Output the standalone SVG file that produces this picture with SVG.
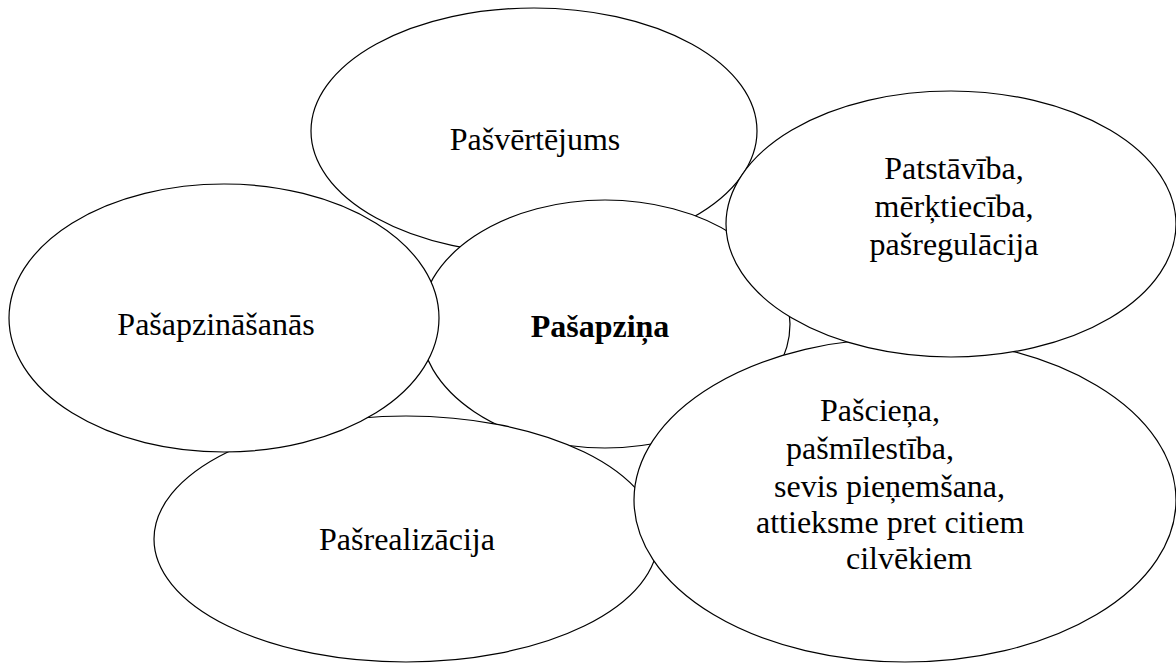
<svg xmlns="http://www.w3.org/2000/svg" width="1176" height="663" viewBox="0 0 1176 663">
<style>
.e{fill:#fff;stroke:#000;stroke-width:1.2}
.t{font-family:"Liberation Serif","Times New Roman",serif;font-size:32px;fill:#000}
.m{text-anchor:middle}
.b{font-weight:bold}
</style>
<rect width="1176" height="663" fill="#fff"/>
<g id="connectors"></g>
<g id="pasvertejums">
<ellipse class="e" cx="534" cy="131" rx="223" ry="123"/>
<text class="t m" x="535" y="150">Pašvērtējums</text>
</g>
<g id="pasapzina">
<ellipse class="e" cx="605" cy="324" rx="185" ry="124"/>
<text class="t m b" x="600" y="337">Pašapziņa</text>
</g>
<g id="pasrealizacija">
<ellipse class="e" cx="406" cy="539" rx="252" ry="123"/>
<text class="t m" x="407" y="550">Pašrealizācija</text>
</g>
<g id="pasapzinasanas">
<ellipse class="e" cx="224" cy="318" rx="215" ry="134"/>
<text class="t m" x="216" y="335">Pašapzināšanās</text>
</g>
<g id="pasciena">
<ellipse class="e" cx="905" cy="500" rx="271" ry="162"/>
<text class="t" x="820" y="421">Pašcieņa,</text>
<text class="t" x="786" y="459">pašmīlestība,</text>
<text class="t" x="774" y="497">sevis pieņemšana,</text>
<text class="t" x="756" y="533">attieksme pret citiem</text>
<text class="t" x="846" y="569">cilvēkiem</text>
</g>
<g id="patstaviba">
<ellipse class="e" cx="951" cy="224" rx="225" ry="133"/>
<text class="t m" x="954" y="179">Patstāvība,</text>
<text class="t m" x="954" y="217">mērķtiecība,</text>
<text class="t m" x="954" y="255">pašregulācija</text>
</g>
</svg>
